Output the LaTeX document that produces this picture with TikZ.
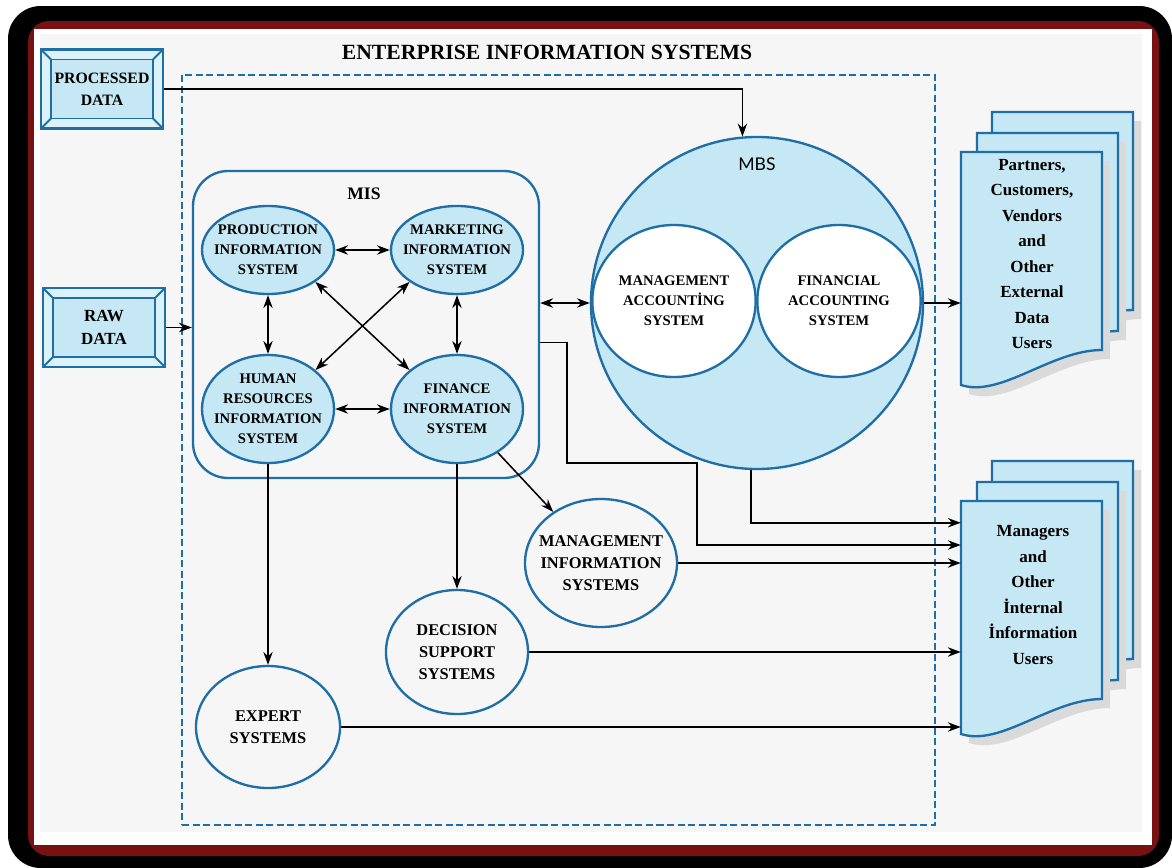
\documentclass[tikz,border=0pt]{standalone}
\usepackage{fontspec}
\setmainfont{Liberation Serif}
\newfontfamily\mbsfont{Lato}
\usetikzlibrary{arrows.meta}
\usetikzlibrary{calc}
\usetikzlibrary{positioning}
\usetikzlibrary{shapes.geometric}

\definecolor{eisblue}{RGB}{31,110,166}
\definecolor{eisfill}{RGB}{198,231,244}
\definecolor{eisrim}{RGB}{219,242,250}
\definecolor{panelgray}{RGB}{246,246,246}
\definecolor{framered}{RGB}{120,18,18}
\definecolor{docshadow}{RGB}{218,218,218}

\tikzstyle{flow} = [line width=1.3pt,-{Stealth[length=11pt,width=8pt]}]
\tikzstyle{flowboth} = [line width=1.3pt,{Stealth[length=11pt,width=8pt]}-{Stealth[length=11pt,width=8pt]}]
\tikzstyle{subsys} = [ellipse, draw=eisblue, line width=2pt, fill=eisfill, minimum width=3.96cm, minimum height=2.64cm, inner sep=0pt]
\tikzstyle{bigsys} = [subsys, minimum height=3.24cm]
\tikzstyle{outsys} = [ellipse, draw=eisblue, line width=2pt, inner sep=0pt]
\tikzstyle{subtext} = [font=\fontsize{12.5}{17}\selectfont\bfseries, align=center]
\tikzstyle{outtext} = [font=\fontsize{14}{19}\selectfont\bfseries, align=center]
\tikzstyle{doctext} = [font=\fontsize{14.5}{21.7}\selectfont\bfseries, align=center]
\tikzstyle{databox} = [rectangle, draw=eisblue, line width=2pt, fill=eisrim,
  minimum width=3.66cm, minimum height=2.37cm, inner sep=0pt, align=center,
  font=\fontsize{13.5}{19}\selectfont\bfseries,
  path picture={
    \draw[eisblue, line width=1.6pt, fill=eisfill]
      ([shift={(10,10)}]path picture bounding box.north west) rectangle
      ([shift={(-10,-10)}]path picture bounding box.south east);
    \draw[eisblue, line width=1.6pt]
      (path picture bounding box.north west) -- ++(10,10)
      (path picture bounding box.north east) -- ++(-10,10)
      (path picture bounding box.south west) -- ++(10,-10)
      (path picture bounding box.south east) -- ++(-10,-10);
  }]

% one sheet of a document stack, #1 = left, #2 = top
\newcommand{\docpage}[2]{({#1},{#2}) -- ({#1+141},{#2}) -- ({#1+141},{#2+198})
  .. controls ({#1+90},{#2+198}) and ({#1+40},{#2+246}) .. ({#1},{#2+233}) -- cycle}

\begin{document}
\begin{tikzpicture}[x=0.03cm, y=-0.03cm]

    \useasboundingbox (0,0) rectangle (1172,868);

    % frame and panel
    \fill[black, rounded corners=28pt] (8,6) rectangle (1172,868);
    \fill[framered, rounded corners=18pt] (28,21) rectangle (1159,856);
    \fill[white] (34,29) rectangle (1152,845);
    \fill[panelgray] (40,34) rectangle (1142,832);

    \node[font=\fontsize{18.5}{22}\selectfont\bfseries] (title) at (547,52) {ENTERPRISE INFORMATION SYSTEMS};
    \node[draw=eisblue, line width=1.6pt, dash pattern=on 6pt off 3pt,
          minimum width=22.59cm, minimum height=22.5cm] (eisbox) at (558.5,450) {};

    % data sources
    \node[databox] (procdata) at (102,89) {PROCESSED\\DATA};
    \node[databox, font=\fontsize{14.5}{20}\selectfont\bfseries] (rawdata) at (104,327.5) {RAW\\DATA};

    % MIS block
    \node[draw=eisblue, line width=2pt, rounded corners=30pt,
          minimum width=10.38cm, minimum height=9.21cm] (misbox) at (366,324.5) {};
    \node[font=\fontsize{15}{18}\selectfont\bfseries] (mislabel) at (364,194) {MIS};
    \node[subsys, label={[subtext]center:PRODUCTION\\INFORMATION\\SYSTEM}] (prod) at (268,250) {};
    \node[subsys, label={[subtext]center:MARKETING\\INFORMATION\\SYSTEM}] (mkt) at (457,250) {};
    \node[bigsys, label={[subtext]center:HUMAN\\RESOURCES\\INFORMATION\\SYSTEM}] (hr) at (268,409) {};
    \node[bigsys, label={[subtext]center:FINANCE\\INFORMATION\\SYSTEM}] (fin) at (457,409) {};

    % MBS block
    \node[circle, draw=eisblue, line width=2pt, fill=eisfill, minimum size=9.96cm, inner sep=0pt] (mbs) at (757,303) {};
    \node[font=\mbsfont\fontsize{15}{18}\selectfont] (mbslabel) at (757,164) {MBS};
    \node[ellipse, draw=eisblue, line width=2pt, fill=white, minimum width=4.9cm, minimum height=4.56cm, inner sep=0pt,
          label={[subtext]center:MANAGEMENT\\ACCOUNTİNG\\SYSTEM}] (mgmtacc) at (674,301) {};
    \node[ellipse, draw=eisblue, line width=2pt, fill=white, minimum width=4.9cm, minimum height=4.56cm, inner sep=0pt,
          label={[subtext]center:FINANCIAL\\ACCOUNTING\\SYSTEM}] (finacc) at (839,301) {};

    % other systems
    \node[outsys, minimum width=4.56cm, minimum height=3.84cm,
          label={[outtext]center:MANAGEMENT\\INFORMATION\\SYSTEMS}] (mgmtis) at (601,563) {};
    \node[outsys, minimum width=4.26cm, minimum height=3.72cm,
          label={[outtext]center:DECISION\\SUPPORT\\SYSTEMS}] (dss) at (457,652) {};
    \node[outsys, minimum width=4.32cm, minimum height=3.66cm,
          label={[outtext]center:EXPERT\\SYSTEMS}] (expert) at (268,727) {};

    % document stacks
    \foreach \top in {152,501}{
      \foreach \dx/\dy in {31/-40,16/-19,0/0}{
        \pgfmathsetmacro{\pl}{961+\dx}
        \pgfmathsetmacro{\pt}{\top+\dy}
        \fill[docshadow] \docpage{\pl+8}{\pt+9};
        \filldraw[draw=eisblue, line width=2pt, fill=eisfill] \docpage{\pl}{\pt};
      }
    }
    \node[minimum width=4.23cm, minimum height=6.99cm, inner sep=0pt] (extdoc) at (1031.5,268.5) {};
    \node[minimum width=4.23cm, minimum height=6.99cm, inner sep=0pt] (intdoc) at (1031.5,617.5) {};
    \node[doctext] (exttxt) at (1032,254) {Partners,\\Customers,\\Vendors\\and\\Other\\External\\Data\\Users};
    \node[doctext] (inttxt) at (1033,595) {Managers\\and\\Other\\İnternal\\İnformation\\Users};

    % connectors
    \coordinate (bendA) at (567,463);
    \coordinate (bendB) at (697,545);
    \draw[flow] (procdata.east) -| (mbs.95);
    \draw[flow] (rawdata.east) -- (rawdata.east -| misbox.west);
    \draw[flowboth] (mbs.west -| misbox.east) -- (mbs.west);
    \draw[flow] (mbs.east) -- (mbs.east -| extdoc.west);
    \draw[flow] (mbs.268) |- ($(intdoc.north west)+(0,22)$);
    \draw[flow] ($(misbox.east)+(0,18)$) -| (bendA) -| (bendB) -- (bendB -| intdoc.west);
    \draw[flow] (mgmtis.east) -- (mgmtis.east -| intdoc.west);
    \draw[flow] (dss.east) -- (dss.east -| intdoc.west);
    \draw[flow] (expert.east) -- (expert.east -| intdoc.west);

    \draw[flowboth] (prod.east) -- (mkt.west);
    \draw[flowboth] (hr.east) -- (fin.west);
    \draw[flowboth] (prod.south) -- (hr.north);
    \draw[flowboth] (mkt.south) -- (fin.north);
    \draw[flowboth] (prod.south east) -- (fin.north west);
    \draw[flowboth] (mkt.south west) -- (hr.north east);
    \draw[flow] (fin) -- (mgmtis);
    \draw[flow] (fin.south) -- (dss.north);
    \draw[flow] (hr.south) -- (expert.north);

\end{tikzpicture}
\end{document}
